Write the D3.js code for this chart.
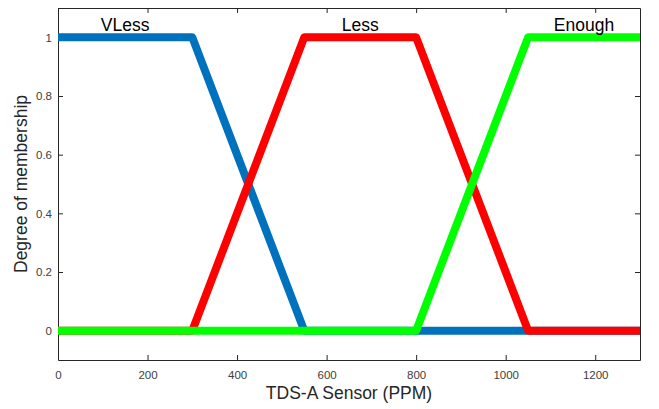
<!DOCTYPE html>
<html><head><meta charset="utf-8">
<script src="https://cdn.jsdelivr.net/npm/d3@7/dist/d3.min.js"></script>
<style>body{margin:0;background:#fff;} text{font-family:"Liberation Sans",Arial,sans-serif;}</style>
</head><body>
<svg id="c" width="659" height="409"></svg>
<script>
const xTicks = [0, 200, 400, 600, 800, 1000, 1200];
const yTicks = [0, 0.2, 0.4, 0.6, 0.8, 1];
const names = ["VLess", "Less", "Enough"];
const colors = ["#0072BD", "#FF0000", "#00FF00"];
const vlessX = [0, 300, 550, 1300];
const vlessY = [1, 1, 0, 0];
const lessX = [0, 300, 550, 800, 1050, 1300];
const lessY = [0, 0, 1, 1, 0, 0];
const enoughX = [0, 800, 1050, 1300];
const enoughY = [0, 0, 1, 1];
const labelX = [150, 675, 1175];
const labelY = 1.05;

const svg = d3.select("#c");
const m = {l: 58, r: 19, t: 8, b: 49};
const W = 659, H = 409;
const x = d3.scaleLinear().domain([0, 1300]).range([m.l, W - m.r]);
const y = d3.scaleLinear().domain([-0.1, 1.1]).range([H - m.b, m.t]);
const axCol = "#262626";

const g = svg.append("g");
const tick = 5;
const xb = g.append("g").attr("transform", `translate(0,${H - m.b})`)
  .call(d3.axisBottom(x).tickValues(xTicks).tickSizeInner(-tick).tickSizeOuter(0).tickPadding(11).tickFormat(d3.format("d")));
const xt = g.append("g").attr("transform", `translate(0,${m.t})`)
  .call(d3.axisTop(x).tickValues(xTicks).tickSizeInner(-tick).tickSizeOuter(0).tickFormat(""));
const yl = g.append("g").attr("transform", `translate(${m.l},0)`)
  .call(d3.axisLeft(y).tickValues(yTicks).tickSizeInner(-tick).tickSizeOuter(0).tickPadding(6).tickFormat(d => d === 0 || d === 1 ? d3.format("d")(d) : d3.format(".1f")(d)));
const yr = g.append("g").attr("transform", `translate(${W - m.r},0)`)
  .call(d3.axisRight(y).tickValues(yTicks).tickSizeInner(-tick).tickSizeOuter(0).tickFormat(""));
[xb, xt, yl, yr].forEach(a => {
  a.select(".domain").attr("stroke", axCol).attr("stroke-width", 1);
  a.selectAll(".tick line").attr("stroke", axCol);
  a.selectAll(".tick text").attr("fill", "#404040").attr("font-size", 11.5).attr("font-family", "Liberation Sans, Arial, sans-serif");
});

const series = [
  {xs: vlessX, ys: vlessY},
  {xs: lessX, ys: lessY},
  {xs: enoughX, ys: enoughY}
];
const line = d3.line().x(d => x(d[0])).y(d => y(d[1]));
series.forEach((s, i) => {
  const pts = s.xs.map((v, j) => [v, s.ys[j]]);
  svg.append("path").attr("d", line(pts)).attr("fill", "none")
    .attr("stroke", colors[i]).attr("stroke-width", 8).attr("stroke-linejoin", "round").attr("stroke-linecap", "butt");
});

names.forEach((n, i) => {
  svg.append("text").attr("x", x(labelX[i])).attr("y", y(labelY)).attr("dy", "0.48em").attr("text-anchor", "middle")
    .attr("font-size", 17.5).attr("fill", "#000").text(n);
});

svg.append("text").attr("x", x(650)).attr("y", 399).attr("text-anchor", "middle")
  .attr("font-size", 17.5).attr("fill", "#262626").text("TDS-A Sensor (PPM)");
svg.append("text").attr("transform", `translate(27,${y(0.5)}) rotate(-90)`).attr("text-anchor", "middle")
  .attr("font-size", 17.5).attr("fill", "#262626").text("Degree of membership");
</script>
</body></html>
